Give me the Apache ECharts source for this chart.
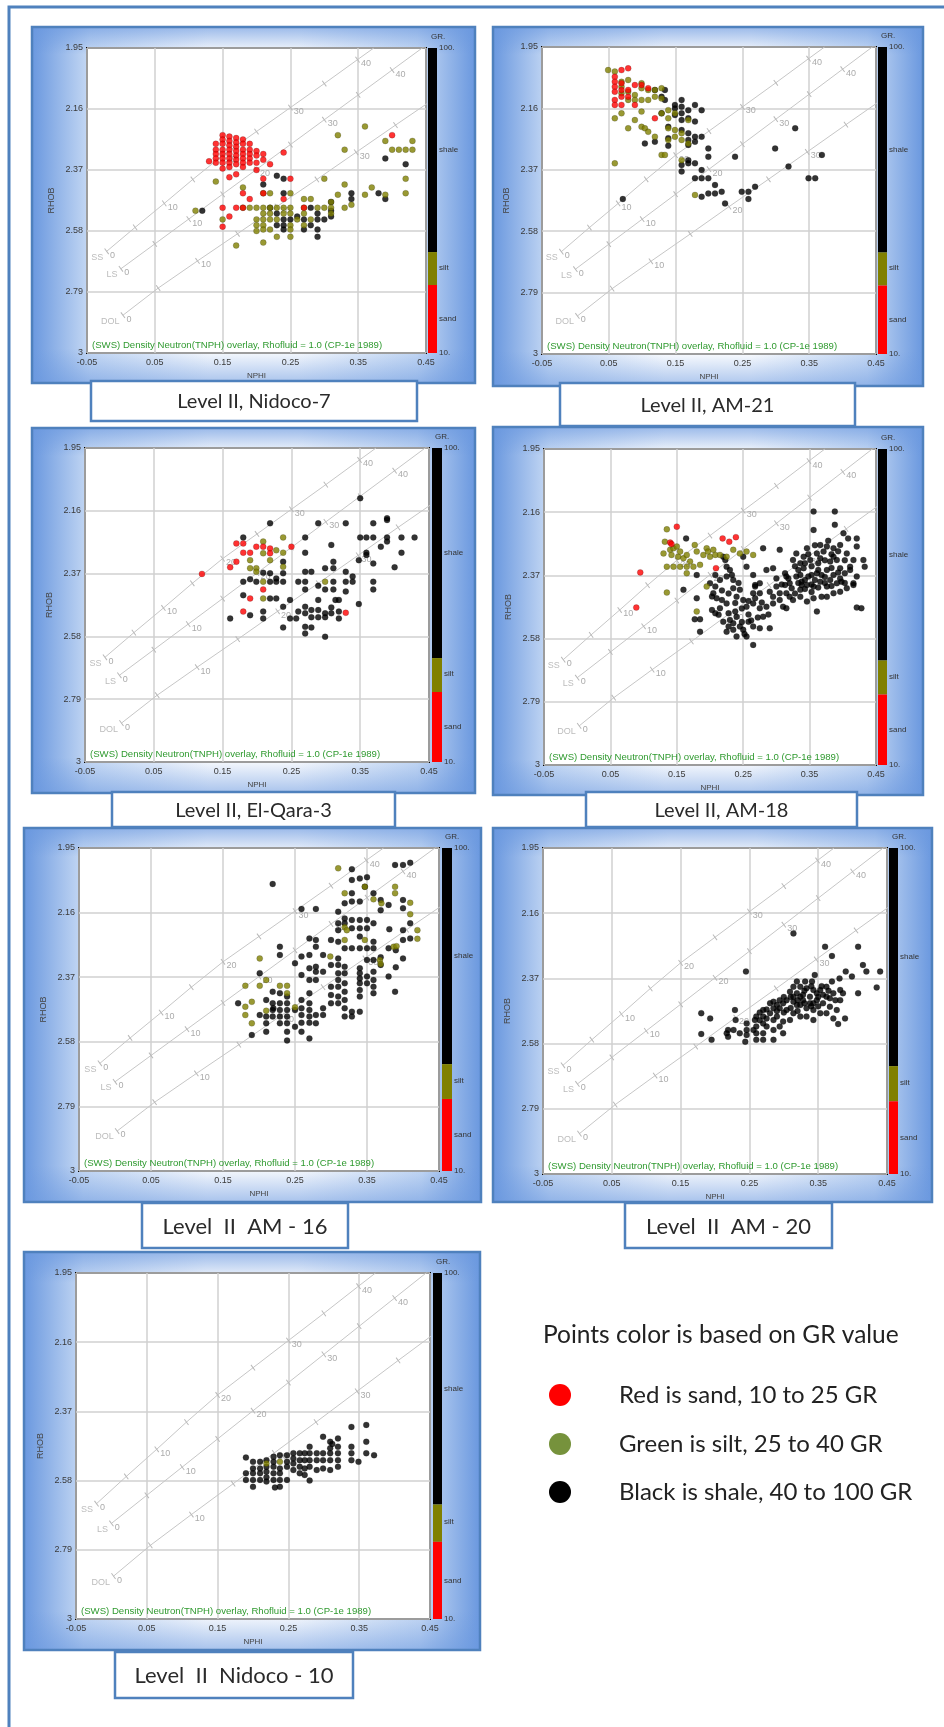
<!DOCTYPE html>
<html><head><meta charset="utf-8">
<script src="https://cdn.jsdelivr.net/npm/echarts@6/dist/echarts.min.js"></script>
<style>html,body{margin:0;padding:0;background:#fff}#c{width:944px;height:1727px}</style>
</head><body><div id="c"></div><script>
// ---------- axis ticks & labels ----------
const xTicks = [-0.05, 0.05, 0.15, 0.25, 0.35, 0.45];
const yTicks = [1.95, 2.16, 2.37, 2.58, 2.79, 3];
const grLabels = ['GR.', '100.', 'shale', 'silt', 'sand', '10.'];
const overlayNote = '(SWS) Density Neutron(TNPH) overlay, Rhofluid = 1.0 (CP-1e 1989)';
const legendTitle = 'Points color is based on GR value';
const legendItems = ['Red is sand, 10 to 25 GR', 'Green is silt, 25 to 40 GR', 'Black is shale, 40 to 100 GR'];

// ---------- lithology overlay lines (porosity pu, NPHI, RHOB) ----------
const ssPor  = [0, 5, 10, 15, 20, 25, 30, 35, 40, 42.4];
const ssNphi = [-0.021, 0.021, 0.064, 0.106, 0.150, 0.200, 0.250, 0.300, 0.349, 0.373];
const ssRhob = [2.65, 2.5675, 2.485, 2.4025, 2.32, 2.2375, 2.155, 2.0725, 1.99, 1.95];
const lsPor  = [0, 5, 10, 15, 20, 25, 30, 35, 40, 45];
const lsNphi = [0, 0.05, 0.10, 0.15, 0.20, 0.25, 0.30, 0.35, 0.40, 0.45];
const lsRhob = [2.71, 2.6245, 2.539, 2.4535, 2.368, 2.2825, 2.197, 2.1115, 2.026, 1.9405];
const dolPor  = [0, 5, 10, 15, 20, 25, 30, 35, 39];
const dolNphi = [0.003, 0.055, 0.113, 0.172, 0.230, 0.289, 0.347, 0.405, 0.452];
const dolRhob = [2.87, 2.7765, 2.683, 2.5895, 2.496, 2.4025, 2.309, 2.2155, 2.1407];

// ---------- points: each entry = [NPHI, RHOB, RHOB, ...] ----------
const nidoco7Sand = [
 [0.13, 2.34], [0.14, 2.28, 2.30, 2.315, 2.33, 2.345],
 [0.15, 2.25, 2.265, 2.28, 2.30, 2.315, 2.33, 2.345, 2.365, 2.50, 2.565],
 [0.16, 2.255, 2.27, 2.285, 2.30, 2.315, 2.33, 2.345, 2.36, 2.395, 2.53],
 [0.17, 2.26, 2.275, 2.29, 2.305, 2.32, 2.335, 2.35, 2.385, 2.50],
 [0.18, 2.265, 2.28, 2.30, 2.315, 2.33, 2.345, 2.36, 2.45, 2.50],
 [0.19, 2.28, 2.30, 2.315, 2.33, 2.345, 2.47], [0.20, 2.305, 2.32, 2.345, 2.37],
 [0.21, 2.315, 2.335, 2.40, 2.45], [0.22, 2.35], [0.24, 2.31, 2.47], [0.25, 2.40],
 [0.27, 2.50], [0.40, 2.25]
];
const nidoco7Silt = [
 [0.11, 2.51], [0.14, 2.41], [0.15, 2.54], [0.17, 2.63], [0.18, 2.43, 2.50], [0.19, 2.50],
 [0.20, 2.50, 2.54, 2.56, 2.58], [0.21, 2.45, 2.50, 2.52, 2.54, 2.56, 2.575, 2.62],
 [0.22, 2.45, 2.50, 2.52, 2.54, 2.575], [0.23, 2.50, 2.54, 2.60], [0.24, 2.50, 2.52],
 [0.25, 2.45, 2.50, 2.52, 2.56, 2.575, 2.60], [0.26, 2.54], [0.27, 2.47, 2.50, 2.52, 2.56],
 [0.28, 2.47, 2.54], [0.29, 2.50], [0.30, 2.40, 2.50], [0.31, 2.48, 2.50, 2.52],
 [0.32, 2.25, 2.455], [0.33, 2.30, 2.42, 2.50], [0.34, 2.49], [0.36, 2.22, 2.455], [0.37, 2.43],
 [0.39, 2.27, 2.455], [0.40, 2.30], [0.41, 2.30], [0.42, 2.30, 2.40, 2.45], [0.43, 2.27, 2.30]
];
const nidoco7Shale = [
 [0.12, 2.51], [0.21, 2.42], [0.22, 2.50], [0.23, 2.39, 2.52, 2.56], [0.24, 2.40, 2.45, 2.54, 2.56, 2.575],
 [0.25, 2.54], [0.26, 2.53], [0.27, 2.54, 2.575], [0.28, 2.50, 2.56], [0.29, 2.52, 2.54, 2.575, 2.60],
 [0.30, 2.54], [0.31, 2.48, 2.51, 2.53], [0.34, 2.45, 2.47], [0.38, 2.45], [0.39, 2.33, 2.47], [0.42, 2.35]
];

const am21Sand = [
 [0.059, 2.052, 2.069, 2.086, 2.103, 2.131, 2.148], [0.069, 2.029, 2.074, 2.097, 2.120, 2.148],
 [0.079, 2.023, 2.097, 2.120], [0.089, 2.080, 2.148], [0.099, 2.080], [0.109, 2.091], [0.119, 2.194]
];
const am21Silt = [
 [0.049, 2.029], [0.059, 2.034, 2.194, 2.348], [0.069, 2.069, 2.086, 2.108, 2.177],
 [0.079, 2.063, 2.103, 2.131, 2.228], [0.089, 2.114, 2.131, 2.200], [0.099, 2.074, 2.091, 2.131, 2.171, 2.223],
 [0.104, 2.228], [0.109, 2.097, 2.131, 2.240], [0.119, 2.097, 2.120, 2.257], [0.129, 2.091, 2.126, 2.177, 2.319],
 [0.134, 2.319], [0.139, 2.166, 2.194, 2.228, 2.268], [0.149, 2.177, 2.234, 2.257], [0.159, 2.245, 2.268, 2.337],
 [0.169, 2.200, 2.280], [0.179, 2.456]
];
const am21Shale = [
 [0.071, 2.470], [0.104, 2.280], [0.119, 2.097, 2.274], [0.129, 2.120, 2.177], [0.134, 2.097, 2.131],
 [0.139, 2.223, 2.262, 2.288], [0.149, 2.148, 2.160, 2.183], [0.159, 2.131, 2.154, 2.177, 2.200, 2.234, 2.354, 2.376],
 [0.169, 2.166, 2.194, 2.245, 2.268, 2.285, 2.337, 2.348], [0.179, 2.148, 2.205, 2.257, 2.274, 2.348, 2.399],
 [0.189, 2.166, 2.257, 2.371, 2.399, 2.462], [0.199, 2.297, 2.325, 2.399, 2.451], [0.209, 2.422, 2.451],
 [0.219, 2.445], [0.224, 2.485], [0.239, 2.325], [0.249, 2.445], [0.259, 2.445, 2.470], [0.269, 2.428],
 [0.299, 2.297], [0.319, 2.359], [0.329, 2.228], [0.349, 2.399], [0.359, 2.399], [0.369, 2.319]
];

const elQaraSand = [
 [0.120, 2.371], [0.161, 2.349], [0.170, 2.269, 2.330], [0.180, 2.269, 2.300, 2.497], [0.190, 2.300, 2.453],
 [0.199, 2.280], [0.209, 2.280, 2.423], [0.219, 2.286, 2.302], [0.250, 2.280], [0.329, 2.501]
];
const elQaraSilt = [
 [0.190, 2.325, 2.352], [0.199, 2.352, 2.364], [0.209, 2.263, 2.302, 2.397, 2.453], [0.219, 2.325],
 [0.228, 2.292], [0.238, 2.249, 2.300, 2.347], [0.299, 2.397]
];
const elQaraShale = [
 [0.161, 2.520], [0.180, 2.249, 2.397, 2.442], [0.190, 2.389, 2.509], [0.199, 2.397], [0.209, 2.367, 2.497, 2.520],
 [0.219, 2.202, 2.369, 2.397, 2.453], [0.228, 2.386, 2.397, 2.453], [0.238, 2.330, 2.369, 2.397, 2.481, 2.550],
 [0.248, 2.458, 2.520], [0.257, 2.520], [0.260, 2.397, 2.497],
 [0.270, 2.249, 2.300, 2.364, 2.397, 2.423, 2.481, 2.503, 2.548, 2.570], [0.279, 2.364, 2.492, 2.516, 2.550],
 [0.289, 2.202, 2.411, 2.458, 2.492, 2.516], [0.299, 2.352, 2.423, 2.503, 2.516, 2.581], [0.308, 2.274, 2.483, 2.503],
 [0.311, 2.330, 2.352, 2.397, 2.423], [0.314, 2.458], [0.319, 2.458, 2.497, 2.520], [0.329, 2.202, 2.364, 2.397, 2.430],
 [0.339, 2.380, 2.397], [0.348, 2.325, 2.472], [0.350, 2.118, 2.249], [0.359, 2.249, 2.300, 2.308],
 [0.369, 2.202, 2.249, 2.336, 2.397, 2.423], [0.380, 2.280], [0.389, 2.185, 2.191, 2.249, 2.263], [0.400, 2.349],
 [0.410, 2.249, 2.300], [0.429, 2.249]
];

const am18Sand = [
 [0.089, 2.477], [0.095, 2.360], [0.140, 2.261], [0.142, 2.266], [0.150, 2.208], [0.209, 2.346],
 [0.219, 2.247], [0.229, 2.258], [0.239, 2.243]
];
const am18Silt = [
 [0.130, 2.297], [0.132, 2.258], [0.135, 2.217, 2.341, 2.427], [0.140, 2.285], [0.142, 2.302], [0.145, 2.280, 2.341],
 [0.150, 2.274], [0.152, 2.308], [0.155, 2.291, 2.341], [0.160, 2.313], [0.165, 2.302, 2.341, 2.363], [0.170, 2.324],
 [0.175, 2.341], [0.177, 2.269], [0.180, 2.291, 2.490], [0.185, 2.335], [0.190, 2.302], [0.195, 2.280, 2.407],
 [0.197, 2.291], [0.200, 2.308], [0.205, 2.285], [0.208, 2.302], [0.215, 2.302], [0.225, 2.308], [0.235, 2.285],
 [0.245, 2.297], [0.255, 2.291], [0.265, 2.302]
];
const am18Shale = [
 [0.160, 2.418], [0.164, 2.247], [0.177, 2.516], [0.180, 2.369, 2.446], [0.185, 2.516, 2.557], [0.200, 2.396],
 [0.203, 2.440, 2.485], [0.205, 2.429], [0.208, 2.369, 2.407, 2.496], [0.210, 2.446], [0.213, 2.501],
 [0.215, 2.385, 2.479], [0.218, 2.420, 2.452], [0.220, 2.308, 2.524], [0.223, 2.319],
 [0.225, 2.341, 2.374, 2.463, 2.557], [0.228, 2.430, 2.496, 2.540], [0.230, 2.352, 2.518], [0.233, 2.369],
 [0.235, 2.385, 2.413, 2.529, 2.551], [0.238, 2.462, 2.490], [0.240, 2.441, 2.507, 2.573], [0.243, 2.395],
 [0.245, 2.418, 2.540], [0.248, 2.480, 2.525], [0.250, 2.308, 2.452, 2.551], [0.252, 2.565],
 [0.255, 2.341, 2.474, 2.573], [0.258, 2.455, 2.500, 2.524], [0.262, 2.520],
 [0.265, 2.369, 2.429, 2.463, 2.540, 2.601], [0.268, 2.402, 2.407, 2.446], [0.272, 2.510],
 [0.275, 2.396, 2.429, 2.479, 2.546], [0.278, 2.460], [0.280, 2.280, 2.507], [0.285, 2.352, 2.474],
 [0.288, 2.500], [0.290, 2.424, 2.546], [0.295, 2.346, 2.441, 2.463], [0.300, 2.380, 2.407],
 [0.305, 2.285, 2.429, 2.452], [0.308, 2.400], [0.310, 2.474], [0.313, 2.363, 2.402], [0.315, 2.374, 2.429, 2.479],
 [0.318, 2.380], [0.320, 2.396, 2.441], [0.323, 2.413], [0.325, 2.319, 2.452], [0.328, 2.340, 2.430],
 [0.330, 2.297, 2.374], [0.333, 2.352, 2.395], [0.336, 2.330, 2.369, 2.418, 2.441], [0.338, 2.391, 2.402],
 [0.341, 2.308, 2.346], [0.343, 2.330, 2.385, 2.415], [0.346, 2.280, 2.402, 2.457], [0.348, 2.300, 2.374],
 [0.351, 2.319], [0.353, 2.340, 2.369, 2.400, 2.425], [0.356, 2.158, 2.219, 2.407, 2.446], [0.358, 2.270, 2.385],
 [0.361, 2.297, 2.363, 2.490], [0.363, 2.330, 2.352, 2.410], [0.366, 2.269, 2.313, 2.391], [0.368, 2.369, 2.441],
 [0.371, 2.291], [0.373, 2.320, 2.375, 2.395], [0.376, 2.274, 2.352, 2.407, 2.441], [0.378, 2.255],
 [0.381, 2.324, 2.385], [0.383, 2.300, 2.345, 2.405], [0.386, 2.280, 2.308, 2.369, 2.429], [0.388, 2.158, 2.202],
 [0.391, 2.319, 2.396], [0.393, 2.290, 2.360], [0.396, 2.269, 2.346, 2.380, 2.424], [0.398, 2.391], [0.401, 2.230],
 [0.403, 2.320, 2.363, 2.395], [0.406, 2.297, 2.413], [0.408, 2.247], [0.411, 2.341, 2.352],
 [0.416, 2.319, 2.396, 2.402], [0.421, 2.247, 2.274, 2.374, 2.477], [0.428, 2.479], [0.431, 2.319], [0.433, 2.341]
];

const am16Sand = [];
const am16Silt = [
 [0.181, 2.398, 2.466, 2.493], [0.190, 2.450, 2.520], [0.201, 2.309, 2.398], [0.210, 2.379, 2.479], [0.229, 2.398],
 [0.239, 2.398, 2.422], [0.250, 2.468], [0.299, 2.303], [0.310, 2.016], [0.319, 2.097, 2.208, 2.249], [0.322, 2.217],
 [0.347, 2.076, 2.249], [0.359, 2.117], [0.368, 2.314], [0.369, 2.327], [0.370, 2.130], [0.387, 2.271],
 [0.389, 2.076, 2.097], [0.391, 2.269], [0.410, 2.128, 2.165], [0.420, 2.217, 2.245]
];
const am16Shale = [
 [0.171, 2.455], [0.190, 2.558], [0.201, 2.357, 2.493], [0.210, 2.444, 2.498, 2.520, 2.547],
 [0.219, 2.067, 2.417, 2.455, 2.477, 2.498], [0.220, 2.471], [0.229, 2.271, 2.298, 2.422, 2.455, 2.477, 2.498, 2.520],
 [0.239, 2.433, 2.455, 2.477, 2.498, 2.520, 2.547, 2.576], [0.250, 2.325, 2.477, 2.531],
 [0.259, 2.148, 2.303, 2.363, 2.444, 2.471, 2.493, 2.518, 2.547],
 [0.270, 2.244, 2.298, 2.341, 2.379, 2.422, 2.455, 2.477, 2.498, 2.518, 2.569],
 [0.279, 2.148, 2.249, 2.271, 2.336, 2.352, 2.379, 2.493, 2.520], [0.289, 2.298, 2.352, 2.471, 2.493],
 [0.300, 2.249, 2.330, 2.401, 2.428, 2.455],
 [0.310, 2.157, 2.195, 2.217, 2.255, 2.309, 2.330, 2.357, 2.379, 2.401, 2.433, 2.455],
 [0.319, 2.130, 2.179, 2.195, 2.276, 2.336, 2.357, 2.390, 2.417, 2.444, 2.471, 2.498],
 [0.329, 2.019, 2.054, 2.097, 2.124, 2.184, 2.211, 2.276, 2.482, 2.498],
 [0.340, 2.049, 2.124, 2.184, 2.211, 2.238, 2.276, 2.341, 2.357, 2.374, 2.390, 2.412, 2.433, 2.482],
 [0.347, 2.076], [0.350, 2.045, 2.184, 2.211, 2.276, 2.314, 2.368, 2.390],
 [0.359, 2.097, 2.195, 2.255, 2.276, 2.314, 2.352, 2.379, 2.401, 2.422], [0.369, 2.119, 2.152, 2.305, 2.330],
 [0.380, 2.135, 2.276, 2.368], [0.381, 2.214], [0.389, 2.005, 2.417], [0.390, 2.282, 2.338],
 [0.400, 2.005, 2.119, 2.146, 2.217, 2.249, 2.309], [0.410, 1.998, 2.195, 2.244]
];

const am20Sand = [];
const am20Silt = [];
const am20Shale = [
 [0.180, 2.482, 2.549], [0.193, 2.499], [0.195, 2.568], [0.217, 2.547], [0.219, 2.536, 2.558], [0.227, 2.536],
 [0.229, 2.472], [0.230, 2.504], [0.236, 2.547], [0.244, 2.574], [0.245, 2.348], [0.246, 2.515, 2.536, 2.552],
 [0.256, 2.536], [0.258, 2.504], [0.260, 2.493, 2.525, 2.547, 2.568], [0.265, 2.480, 2.505],
 [0.270, 2.472, 2.493, 2.515, 2.547, 2.568], [0.275, 2.470, 2.499, 2.525], [0.280, 2.450, 2.482],
 [0.285, 2.445, 2.466, 2.504, 2.536, 2.568], [0.290, 2.456, 2.475, 2.493], [0.294, 2.440, 2.466, 2.525],
 [0.299, 2.450, 2.509, 2.547], [0.300, 2.430, 2.480], [0.304, 2.440, 2.472], [0.309, 2.413, 2.504],
 [0.310, 2.430, 2.465], [0.314, 2.225, 2.397, 2.429, 2.445, 2.482], [0.319, 2.380, 2.418, 2.456],
 [0.320, 2.440, 2.475], [0.324, 2.397, 2.429, 2.456, 2.493], [0.328, 2.423, 2.440], [0.330, 2.410, 2.450],
 [0.331, 2.380], [0.333, 2.402, 2.466, 2.493], [0.338, 2.429, 2.450], [0.340, 2.395, 2.460], [0.341, 2.380],
 [0.343, 2.407, 2.450, 2.472, 2.504], [0.345, 2.359], [0.348, 2.418, 2.440], [0.350, 2.430, 2.460],
 [0.353, 2.407, 2.482], [0.355, 2.395], [0.357, 2.423, 2.450], [0.360, 2.268], [0.362, 2.397, 2.429, 2.482],
 [0.365, 2.410], [0.367, 2.434, 2.461], [0.370, 2.298, 2.380], [0.372, 2.418, 2.499], [0.375, 2.440],
 [0.377, 2.472], [0.379, 2.517], [0.381, 2.370], [0.382, 2.407, 2.440], [0.386, 2.418], [0.389, 2.499],
 [0.390, 2.348], [0.399, 2.364], [0.408, 2.268, 2.418], [0.415, 2.327], [0.420, 2.348], [0.435, 2.399], [0.440, 2.348]
];

const nidoco10Sand = [];
const nidoco10Silt = [[0.219, 2.528], [0.238, 2.523]];
const nidoco10Shale = [
 [0.190, 2.510, 2.558, 2.578], [0.200, 2.523, 2.543, 2.558, 2.578, 2.599], [0.210, 2.523, 2.543, 2.558, 2.578],
 [0.219, 2.518, 2.538, 2.553, 2.570, 2.583], [0.229, 2.508, 2.523, 2.538, 2.558, 2.578], [0.231, 2.601],
 [0.238, 2.503, 2.543, 2.558, 2.578, 2.599], [0.248, 2.503, 2.523, 2.538, 2.578], [0.257, 2.497, 2.513, 2.528, 2.548],
 [0.266, 2.497, 2.518, 2.538, 2.558], [0.273, 2.497, 2.518, 2.543, 2.563], [0.280, 2.477, 2.497, 2.518, 2.538, 2.580],
 [0.290, 2.497, 2.518, 2.548], [0.299, 2.447, 2.497, 2.518, 2.543], [0.309, 2.462, 2.482, 2.497, 2.518, 2.548],
 [0.312, 2.469], [0.320, 2.452, 2.477, 2.497, 2.518, 2.538], [0.339, 2.417, 2.477, 2.497, 2.518], [0.349, 2.523],
 [0.360, 2.411, 2.462, 2.497], [0.371, 2.503]
];

// ---------- layout (pixels) ----------
const panels = [
 {title:'Level II, Nidoco-7', sand:nidoco7Sand, silt:nidoco7Silt, shale:nidoco7Shale,
  box:[32,27,475,383], plot:[87,48,426,353], cbar:[428,437], lab:[91,381,417,421], fs:20},
 {title:'Level II, AM-21', sand:am21Sand, silt:am21Silt, shale:am21Shale,
  box:[493,27,923,386], plot:[542,47,876,354], cbar:[878,887], lab:[560,383,855,426], fs:20},
 {title:'Level II, El-Qara-3', sand:elQaraSand, silt:elQaraSilt, shale:elQaraShale,
  box:[32,428,475,793], plot:[85,448,429,762], cbar:[432,442], lab:[112,792,395,827], fs:20},
 {title:'Level II, AM-18', sand:am18Sand, silt:am18Silt, shale:am18Shale,
  box:[493,427,923,795], plot:[544,449,876,765], cbar:[878,887], lab:[586,792,857,827], fs:20},
 {title:'Level  II  AM - 16', sand:am16Sand, silt:am16Silt, shale:am16Shale,
  box:[24,828,481,1202], plot:[79,848,439,1171], cbar:[442,452], lab:[142,1203,348,1248], fs:22},
 {title:'Level  II  AM - 20', sand:am20Sand, silt:am20Silt, shale:am20Shale,
  box:[493,828,932,1202], plot:[543,848,887,1174], cbar:[889,898], lab:[625,1203,832,1248], fs:22},
 {title:'Level  II  Nidoco - 10', sand:nidoco10Sand, silt:nidoco10Silt, shale:nidoco10Shale,
  box:[24,1252,480,1650], plot:[76,1273,430,1619], cbar:[433,442], lab:[115,1652,353,1698], fs:22}
];

function expand(cols) {
  const out = [];
  cols.forEach(c => { for (let i = 1; i < c.length; i++) out.push([c[0], c[i]]); });
  return out;
}

const BLUE = '#4f81bd';
const grids = [], xAxes = [], yAxes = [], series = [], gfx = [];
const axisFont = 'Liberation Sans';

gfx.push({type:'polyline', shape:{points:[[9,1727],[9,7],[944,7]]}, style:{stroke:BLUE, lineWidth:3, fill:null}, z:-20});

panels.forEach((p, i) => {
  const [pl, pt, pr, pb] = p.plot;
  const w = pr - pl, h = pb - pt;
  grids.push({left:pl, top:pt, width:w, height:h, show:true, backgroundColor:'#ffffff', borderColor:'#000', borderWidth:2});
  xAxes.push({type:'value', gridIndex:i, min:-0.05, max:0.45, name:'NPHI', nameLocation:'middle', nameGap:19,
    nameTextStyle:{fontSize:8, color:'#444', fontFamily:axisFont},
    axisLine:{show:false}, axisTick:{show:false, customValues:xTicks},
    axisLabel:{customValues:xTicks, formatter:v => v.toFixed(2), fontSize:9, color:'#3a3a3a', margin:5, fontFamily:axisFont},
    splitLine:{show:true, lineStyle:{color:'#d0d0d0', width:1.5}}});
  yAxes.push({type:'value', gridIndex:i, min:1.95, max:3, inverse:true, name:'RHOB', nameLocation:'middle', nameGap:31, nameRotate:90,
    nameTextStyle:{fontSize:9, color:'#444', fontFamily:axisFont},
    axisLine:{show:false}, axisTick:{show:false, customValues:yTicks},
    axisLabel:{customValues:yTicks, formatter:v => (v === 3 ? '3' : v.toFixed(2)), fontSize:9, color:'#3a3a3a', margin:4, fontFamily:axisFont},
    splitLine:{show:true, lineStyle:{color:'#d0d0d0', width:1.5}}});

  [['SS', ssPor, ssNphi, ssRhob], ['LS', lsPor, lsNphi, lsRhob], ['DOL', dolPor, dolNphi, dolRhob]].forEach(([nm, por, nx, ny]) => {
    series.push({type:'line', xAxisIndex:i, yAxisIndex:i, silent:true, z:1, clip:true, animation:false,
      lineStyle:{color:'#c6c6c6', width:1}, itemStyle:{color:'#b8b8b8'},
      symbol:'rect', symbolSize:[1,7], symbolRotate:36, showSymbol:true, label:{show:false},
      data: por.map((v, k) => ({value:[nx[k], ny[k]], symbol:(v % 5 === 0 && v <= 40) ? 'rect' : 'none',
        label:{show: v % 10 === 0, formatter:String(v), position:'right', distance:1, offset:[0,4], color:'#ababab', fontSize:9, fontFamily:axisFont}}))});
    series.push({type:'scatter', xAxisIndex:i, yAxisIndex:i, silent:true, z:1, symbolSize:1, itemStyle:{color:'rgba(0,0,0,0)'},
      data:[[nx[0], ny[0]]], label:{show:true, formatter:nm, position:'left', distance:3, offset:[0,6], color:'#ababab', fontSize:9, fontFamily:axisFont}});
  });

  [['shale', p.shale, '#000000'], ['silt', p.silt, '#7f7f00'], ['sand', p.sand, '#ff0000']].forEach(([nm, d, col]) => {
    series.push({type:'scatter', name:nm, xAxisIndex:i, yAxisIndex:i, symbolSize:6, z:3, animation:false,
      itemStyle:{color:col, borderColor:'rgba(0,0,0,0.35)', borderWidth:0.6}, data:expand(d)});
  });

  // panel background
  const [bl, bt, br, bb] = p.box;
  gfx.push({type:'rect', shape:{x:bl, y:bt, width:br-bl, height:bb-bt}, z:-10,
    style:{fill:new echarts.graphic.LinearGradient(0,0,1,0,[
      {offset:0, color:'#6a98df'}, {offset:0.13, color:'#c6d9f4'}, {offset:0.4, color:'#ffffff'},
      {offset:0.6, color:'#ffffff'}, {offset:0.87, color:'#c6d9f4'}, {offset:1, color:'#6a98df'}]), stroke:null}});
  gfx.push({type:'rect', shape:{x:bl, y:bt, width:br-bl, height:bb-bt}, z:-9,
    style:{fill:new echarts.graphic.LinearGradient(0,0,0,1,[
      {offset:0, color:'rgba(106,152,223,0.7)'}, {offset:0.08, color:'rgba(106,152,223,0)'},
      {offset:0.9, color:'rgba(106,152,223,0)'}, {offset:1, color:'rgba(106,152,223,0.6)'}]), stroke:BLUE, lineWidth:2.5}});

  // colour bar
  const [cl, cr] = p.cbar;
  const y1 = pt + 0.669 * h, y2 = pt + 0.777 * h;
  gfx.push({type:'rect', shape:{x:cl, y:pt, width:cr-cl, height:y1-pt}, style:{fill:'#000'}, z:10});
  gfx.push({type:'rect', shape:{x:cl, y:y1, width:cr-cl, height:y2-y1}, style:{fill:'#808000'}, z:10});
  gfx.push({type:'rect', shape:{x:cl, y:y2, width:cr-cl, height:pb-y2}, style:{fill:'#ff0000'}, z:10});
  const lblPos = [[cl+3, pt-11], [cr+2, pt], [cr+2, pt+0.334*h], [cr+2, pt+0.72*h], [cr+2, pt+0.889*h], [cr+2, pb]];
  grLabels.forEach((t, k) => gfx.push({type:'text', x:lblPos[k][0], y:lblPos[k][1], z:10,
    style:{text:t, fill:'#333', font:'8px ' + axisFont, textAlign:'left', textVerticalAlign:'middle'}}));

  // overlay note
  gfx.push({type:'text', x:pl+5, y:pb-8, z:10,
    style:{text:overlayNote, fill:'#2f9a2f', font:'9.6px ' + axisFont, textAlign:'left', textVerticalAlign:'middle'}});

  // panel title box
  const [ll, lt, lr, lb] = p.lab;
  gfx.push({type:'rect', shape:{x:ll, y:lt, width:lr-ll, height:lb-lt}, style:{fill:'#fff', stroke:BLUE, lineWidth:2.5}, z:12});
  gfx.push({type:'text', x:(ll+lr)/2, y:(lt+lb)/2 + 1, z:13,
    style:{text:p.title, fill:'#2a2a2a', font:p.fs + 'px Lato', textAlign:'center', textVerticalAlign:'middle'}});
});

// legend
gfx.push({type:'text', x:543, y:1335, z:10, style:{text:legendTitle, fill:'#222', font:'24.5px Lato', textAlign:'left', textVerticalAlign:'middle'}});
const legendColors = ['#ff0000', '#76923c', '#000000'];
const legendY = [1395, 1444, 1492];
legendItems.forEach((t, k) => {
  gfx.push({type:'circle', shape:{cx:560, cy:legendY[k], r:11}, style:{fill:legendColors[k]}, z:10});
  gfx.push({type:'text', x:619, y:legendY[k], z:10, style:{text:t, fill:'#222', font:'24px Lato', textAlign:'left', textVerticalAlign:'middle'}});
});

const chart = echarts.init(document.getElementById('c'), null, {renderer:'canvas', width:944, height:1727});
chart.setOption({animation:false, grid:grids, xAxis:xAxes, yAxis:yAxes, series:series, graphic:{elements:gfx}});
</script></body></html>
